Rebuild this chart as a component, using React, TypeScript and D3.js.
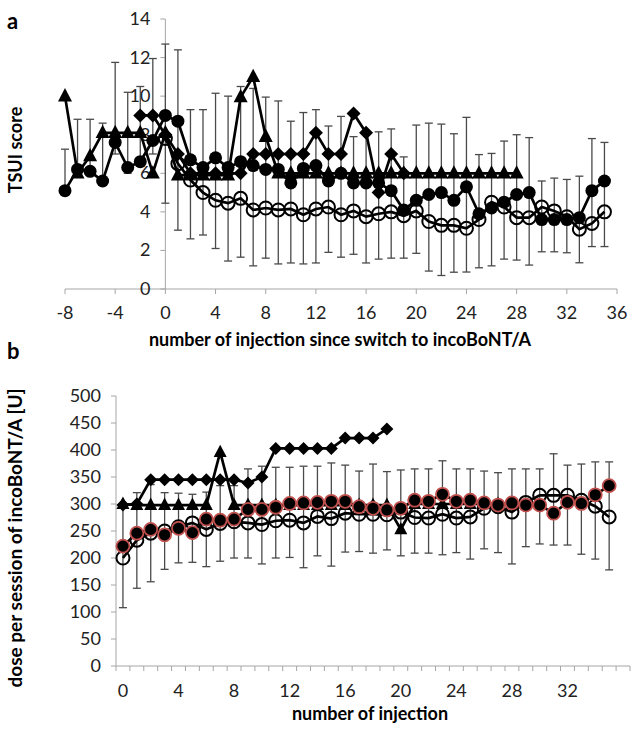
import React from "react";
import * as d3 from "d3";

// panel a: TSUI score, x = injection number relative to switch
const aFilledStart = -8;
const aFilled = [5.1, 6.2, 6.1, 5.6, 7.6, 6.3, 6.6, 7.7, 9.0, 8.7, 6.7, 6.3, 6.8, 6.3, 6.6, 6.4, 6.2, 6.2, 5.5, 6.25, 6.4, 5.6, 6.0, 5.5, 5.5, 5.5, 5.1, 4.1, 4.6, 4.9, 5.0, 4.6, 5.3, 3.9, 4.2, 4.5, 4.9, 5.0, 3.6, 3.6, 3.6, 3.7, 5.1, 5.6];
const aOpenStart = 0;
const aOpen = [7.8, 6.5, 5.65, 5.0, 4.6, 4.45, 4.7, 4.1, 4.2, 4.1, 4.15, 3.85, 4.15, 4.25, 3.85, 4.05, 3.75, 3.9, 4.0, 3.8, 4.05, 3.5, 3.3, 3.3, 3.15, 3.6, 4.5, 4.25, 3.7, 3.7, 4.25, 4.05, 3.75, 3.1, 3.4, 4.0];
const aDiamondStart = -2;
const aDiamond = [9.0, 9.0, 8.0, 7.0, 6.0, 6.0, 6.0, 6.0, 6.0, 7.0, 7.0, 7.0, 7.0, 7.0, 8.1, 7.0, 7.0, 9.1, 8.1, 5.0, 7.0, 6.0];
const aTriangleStart = -8;
const aTriangle = [10.0, 6.0, 6.9, 8.1, 8.1, 8.1, 8.1, 6.0, 8.1, 5.9, 5.9, 5.9, 5.9, 5.9, 9.95, 11.0, 7.9, 6.0, 6.0, 6.0, 6.0, 6.0, 6.0, 6.0, 6.0, 6.0, 6.0, 6.0, 6.0, 6.0, 6.0, 6.0, 6.0, 6.0, 6.0, 6.0, 6.0];
const aErrStart = -8;
const aErrHi = [7.25, 8.8, 8.8, 8.6, 11.75, 10.2, 10.5, 11.95, 12.7, 12.4, 9.3, 9.3, 10.15, 10.0, 10.5, 10.4, 9.95, 9.75, 8.7, 9.15, 9.3, 8.45, 8.95, 7.9, 8.2, 8.15, 8.3, 6.85, 8.5, 8.6, 8.55, 8.05, 8.9, 6.97, 7.03, 7.67, 8.0, 7.85, 5.6, 5.75, 5.68, 5.85, 7.8, 7.6];
const aErrLo = [5.0, 6.0, 6.0, 5.5, 7.0, 6.0, 6.5, 7.0, 4.45, 3.05, 2.6, 2.8, 2.1, 1.45, 1.65, 1.2, 1.6, 1.3, 1.35, 1.3, 1.35, 1.9, 1.65, 1.8, 1.35, 1.55, 1.6, 1.6, 1.85, 0.93, 0.7, 0.87, 0.88, 1.1, 1.2, 1.55, 1.5, 1.24, 1.93, 1.93, 1.88, 1.36, 2.2, 2.2];
const aXTicks = [-8, -4, 0, 4, 8, 12, 16, 20, 24, 28, 32, 36];
const aYTicks = [0, 2, 4, 6, 8, 10, 12, 14];

// panel b: dose per session, categories 0..36
const bCategories = d3.range(37);
const bOpen = [200, 233, 246, 250, 258, 265, 253, 264, 267, 265, 262, 269, 270, 265, 277, 273, 283, 281, 281, 280, 285, 275, 274, 281, 274, 276, 292, 295, 285, 303, 316, 316, 316, 307, 296, 276];
const bRed = [222, 246, 253, 243, 255, 247, 272, 270, 272, 290, 290, 294, 301, 302, 303, 305, 305, 295, 292, 289, 292, 307, 305, 318, 305, 307, 302, 298, 302, 298, 298, 283, 303, 301, 317, 334];
const bDiamond = [298, 300, 345, 345, 345, 345, 345, 345, 345, 339, 350, 403, 403, 403, 403, 403, 422, 422, 422, 439];
const bTriangle = [300, 298, 298, 298, 298, 298, 298, 396, 298, 298, 298, 298, 298, 298, 298, 298, 298, 298, 298, 298, 253, 300, 300, 300, 300, 300, 300, 300];
const bErrHi = [292, 321, 336, 321, 320, 318, 322, 334, 334, 365, 370, 368, 368, 370, 370, 376, 372, 361, 374, 360, 363, 365, 365, 380, 365, 365, 361, 358, 365, 365, 365, 393, 372, 374, 378, 378];
const bErrLo = [108, 144, 156, 179, 191, 192, 184, 194, 200, 200, 189, 200, 201, 182, 204, 185, 211, 212, 209, 215, 204, 209, 209, 206, 210, 198, 217, 210, 189, 221, 226, 224, 224, 207, 198, 178];
const bXTicks = [0, 4, 8, 12, 16, 20, 24, 28, 32];
const bYTicks = [0, 50, 100, 150, 200, 250, 300, 350, 400, 450, 500];

const FONT = "Lato, 'Open Sans', sans-serif";
const AXIS = "#a6a6a6";
const ERR = "#4a4a4a";
const RED = "#c0504d";

type Pt = [number, number];
const pts = (start: number, vals: number[]): Pt[] => vals.map((v, i) => [start + i, v]);

function Marker({ kind, x, y, s }: { kind: string; x: number; y: number; s: number }) {
  if (kind === "circle") return <circle cx={x} cy={y} r={s} fill="#000" />;
  if (kind === "open") return <circle cx={x} cy={y} r={s} fill="none" stroke="#000" strokeWidth={2} />;
  if (kind === "red") return <circle cx={x} cy={y} r={s} fill="#000" stroke={RED} strokeWidth={1.8} />;
  if (kind === "diamond")
    return <path d={`M${x},${y - s}L${x + s},${y}L${x},${y + s}L${x - s},${y}Z`} fill="#000" />;
  return (
    <path d={`M${x},${y - s * 1.15}L${x + s},${y + s * 0.75}L${x - s},${y + s * 0.75}Z`} fill="#000" />
  );
}

function Series({ data, sx, sy, kind, s }: { data: Pt[]; sx: (v: number) => number; sy: (v: number) => number; kind: string; s: number }) {
  const line = d3.line<Pt>().x((d) => sx(d[0])).y((d) => sy(d[1]));
  return (
    <g>
      <path d={line(data) || ""} fill="none" stroke="#000" strokeWidth={2.7} />
      {data.map((d, i) => (
        <Marker key={i} kind={kind} x={sx(d[0])} y={sy(d[1])} s={s} />
      ))}
    </g>
  );
}

function ErrorBars({ start, hi, lo, sx, sy }: { start: number; hi: number[]; lo: number[]; sx: (v: number) => number; sy: (v: number) => number }) {
  return (
    <g stroke={ERR} strokeWidth={1.3}>
      {hi.map((h, i) => {
        const x = sx(start + i);
        return (
          <g key={i}>
            <line x1={x} x2={x} y1={sy(h)} y2={sy(lo[i])} />
            <line x1={x - 4} x2={x + 4} y1={sy(h)} y2={sy(h)} />
            <line x1={x - 4} x2={x + 4} y1={sy(lo[i])} y2={sy(lo[i])} />
          </g>
        );
      })}
    </g>
  );
}

export default function App() {
  // panel a scales
  const xA = d3.scaleLinear().domain([-8, 36]).range([65, 617]);
  const yA = d3.scaleLinear().domain([0, 14]).range([289, 19]);

  // panel b scales
  const xBand = d3.scaleBand<number>().domain(bCategories).range([116, 630]);
  const xB = (i: number) => (xBand(i) as number) + xBand.bandwidth() / 2;
  const yB = d3.scaleLinear().domain([0, 500]).range([666, 396]);

  return (
    <div style={{ position: "absolute", left: 0, top: 0 }}>
      <svg width={637} height={729} style={{ display: "block", background: "#fff" }} fontFamily={FONT}>
        {/* ---------- panel a ---------- */}
        <text x={7} y={29} fontSize={22} fontWeight="bold">a</text>
        <g stroke={AXIS} strokeWidth={1}>
          <line x1={xA(-8)} x2={xA(36)} y1={yA(0)} y2={yA(0)} />
          {aXTicks.map((t) => (
            <line key={t} x1={xA(t)} x2={xA(t)} y1={yA(0)} y2={yA(0) + 5} />
          ))}
          <line x1={xA(0)} x2={xA(0)} y1={yA(0)} y2={yA(14)} />
          {aYTicks.map((t) => (
            <line key={t} x1={xA(0) - 5} x2={xA(0)} y1={yA(t)} y2={yA(t)} />
          ))}
        </g>
        <g fontSize={18} fill="#222">
          {aXTicks.map((t) => (
            <text key={t} x={xA(t)} y={yA(0) + 30} textAnchor="middle">{t}</text>
          ))}
          {aYTicks.map((t) => (
            <text key={t} x={xA(0) - 15} y={yA(t) + 6} textAnchor="end">{t}</text>
          ))}
        </g>
        <ErrorBars start={aErrStart} hi={aErrHi} lo={aErrLo} sx={xA} sy={yA} />
        <Series data={pts(aOpenStart, aOpen)} sx={xA} sy={yA} kind="open" s={6.5} />
        <Series data={pts(aTriangleStart, aTriangle)} sx={xA} sy={yA} kind="triangle" s={7} />
        <Series data={pts(aDiamondStart, aDiamond)} sx={xA} sy={yA} kind="diamond" s={7} />
        <Series data={pts(aFilledStart, aFilled)} sx={xA} sy={yA} kind="circle" s={6.5} />
        <text x={340} y={346} textAnchor="middle" fontSize={18} fontWeight="bold">
          number of injection since switch to incoBoNT/A
        </text>
        <text transform="translate(22,150) rotate(-90)" textAnchor="middle" fontSize={18} fontWeight="bold">
          TSUI score
        </text>

        {/* ---------- panel b ---------- */}
        <text x={7} y={359} fontSize={22} fontWeight="bold">b</text>
        <g stroke={AXIS} strokeWidth={1}>
          <line x1={116} x2={630} y1={yB(0)} y2={yB(0)} />
          {d3.range(38).map((i) => {
            const x = i < 37 ? (xBand(i) as number) : 630;
            return <line key={i} x1={x} x2={x} y1={yB(0)} y2={yB(0) + 5} />;
          })}
          <line x1={116} x2={116} y1={yB(0)} y2={yB(500)} />
          {bYTicks.map((t) => (
            <line key={t} x1={111} x2={116} y1={yB(t)} y2={yB(t)} />
          ))}
        </g>
        <g fontSize={18} fill="#222">
          {bXTicks.map((t) => (
            <text key={t} x={xB(t)} y={yB(0) + 31} textAnchor="middle">{t}</text>
          ))}
          {bYTicks.map((t) => (
            <text key={t} x={101} y={yB(t) + 6} textAnchor="end">{t}</text>
          ))}
        </g>
        <ErrorBars start={0} hi={bErrHi} lo={bErrLo} sx={xB} sy={yB} />
        <Series data={pts(0, bTriangle)} sx={xB} sy={yB} kind="triangle" s={6.5} />
        <Series data={pts(0, bDiamond)} sx={xB} sy={yB} kind="diamond" s={6.5} />
        <Series data={pts(0, bOpen)} sx={xB} sy={yB} kind="open" s={6.5} />
        <Series data={pts(0, bRed)} sx={xB} sy={yB} kind="red" s={6.5} />
        <text x={370} y={720} textAnchor="middle" fontSize={18} fontWeight="bold">
          number of injection
        </text>
        <text transform="translate(22,538) rotate(-90)" textAnchor="middle" fontSize={19} fontWeight="bold">
          dose per session of incoBoNT/A [U]
        </text>
      </svg>
    </div>
  );
}
